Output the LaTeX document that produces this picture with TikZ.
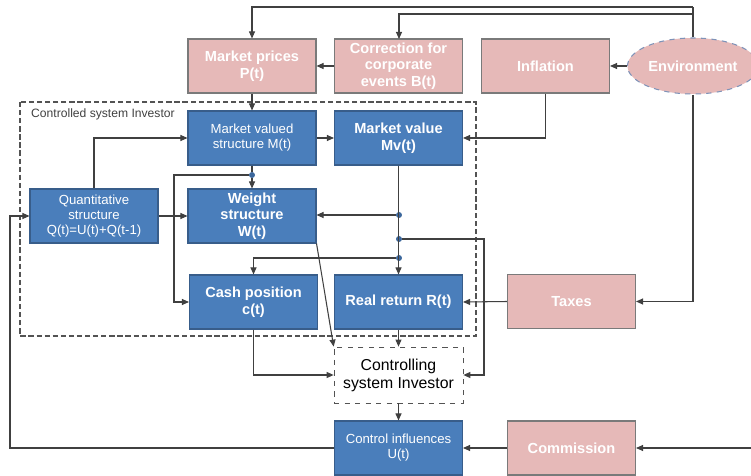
\documentclass[tikz,border=0pt]{standalone}
\usepackage{fontspec}
\setmainfont{Liberation Sans}
\usetikzlibrary{arrows.meta,shapes.geometric}
\definecolor{boxblue}{HTML}{4A7EBB}
\definecolor{boxblueline}{HTML}{385D8A}
\definecolor{boxpink}{HTML}{E6B9B8}
\definecolor{pinkline}{HTML}{7A7A7A}
\definecolor{linegray}{HTML}{404040}
\definecolor{envline}{HTML}{7F93B8}
\definecolor{dotblue}{HTML}{3C679C}

\begin{document}
\begin{tikzpicture}[x=0.02cm,y=-0.02cm,
  bluebox/.style={draw=boxblueline,fill=boxblue,text=white,minimum width=2.56cm,minimum height=1.08cm,inner sep=1pt,align=center,line width=0.6pt},
  pinkbox/.style={draw=pinkline,fill=boxpink,text=white,minimum width=2.56cm,minimum height=1.08cm,inner sep=1pt,align=center,line width=0.6pt},
  bigtxt/.style={font=\fontsize{8.3}{9.4}\selectfont\bfseries},
  smalltxt/.style={font=\fontsize{7.5}{8.6}\selectfont},
  ln/.style={draw=linegray,line width=0.6pt},
  arr/.style={draw=linegray,line width=0.6pt,-{Triangle[length=4pt,width=3.4pt]}},
  dot/.style={circle,fill=dotblue,inner sep=0pt,minimum size=3.4pt}]
\useasboundingbox (0,0) rectangle (751,476);

% controlled system
\draw[draw=linegray!90,line width=0.6pt,dash pattern=on 3pt off 1.6pt] (20,102) rectangle (476,336);
\node[anchor=west,text=linegray,font=\fontsize{6.9}{8}\selectfont] (sysl) at (25,114) {Controlled system Investor};

% top row
\node[pinkbox,bigtxt] (mp) at (252,66) {Market prices\\P(t)};
\node[pinkbox,bigtxt] (corr) at (398.5,66) {Correction for\\corporate\\events B(t)};
\node[pinkbox,bigtxt] (infl) at (545.5,66) {Inflation};
\node[pinkbox,bigtxt,shape=ellipse,draw=envline,dashed,minimum width=2.56cm,minimum height=1.12cm] (env) at (693,66) {Environment};

% inside
\node[bluebox,smalltxt] (mvs) at (252,138) {Market valued\\structure M(t)};
\node[bluebox,bigtxt] (mv) at (398.5,138) {Market value\\Mv(t)};
\node[bluebox,smalltxt] (qs) at (94,216) {Quantitative\\structure\\Q(t)=U(t)+Q(t-1)};
\node[bluebox,bigtxt] (ws) at (252,216) {Weight\\structure\\W(t)};
\node[bluebox,bigtxt] (cash) at (253.5,302) {Cash position\\c(t)};
\node[bluebox,bigtxt] (rr) at (398.5,302) {Real return R(t)};
\node[pinkbox,bigtxt] (taxes) at (571.5,301.5) {Taxes};

% lower part
\node[draw=linegray!90,dashed,fill=white,minimum width=2.58cm,minimum height=1.12cm,align=center,font=\fontsize{9}{10.2}\selectfont] (ctrl) at (398.5,375) {Controlling\\system Investor};
\node[bluebox,smalltxt] (ci) at (398.5,448) {Control influences\\U(t)};
\node[pinkbox,bigtxt] (comm) at (571.5,448) {Commission};

% environment lines on top
\coordinate (top1) at (693,7);
\coordinate (top2) at (693,14);
\draw[ln] (env.north) -- (top1);
\draw[arr] (top1) -| (mp.north);
\draw[arr] (top2) -| (399,39);
\draw[arr] (corr.west) -- (mp.east);
\draw[arr] (env.west) -- (infl.east);
\draw[arr] (mp.south) -- (mvs.north);
\draw[arr] (infl.south) |- (mv.east);
\draw[arr] (env.south) |- (taxes.east);
\draw[arr] (taxes.west) -- (rr.east);
\draw[arr] (mvs.east) -- (mv.west);
\draw[arr] (qs.north) |- (mvs.west);
\draw[arr] (qs.east) -- (ws.west);

% branch below market valued structure
\node[dot] (d1) at (252,175) {};
\draw[ln] (mvs.south) -- (d1);
\draw[arr] (d1) -- (ws.north);
\draw[arr] (d1) -- (174,175) |- (cash.west);

% branches below market value
\node[dot] (d2) at (399,215) {};
\node[dot] (d3) at (399,239) {};
\node[dot] (d4) at (399,258) {};
\draw[arr] (mv.south) -- (rr.north);
\draw[arr] (d2) -- (ws.east |- d2);
\draw[arr] (d3) -- (484,239) |- (ctrl.east);
\draw[arr] (d4) -| (cash.north);

% into controlling system
\draw[arr] (ws.south east) -- (ctrl.north west);
\draw[arr] (cash.south) |- (ctrl.west);
\draw[arr] (rr.south) -- (ctrl.north);
\draw[arr] (ctrl.south) -- (ci.north);

% feedback
\draw[arr] (ci.west) -- (10,448) |- (qs.west);
\draw[arr] (comm.west) -- (ci.east);
\coordinate (rightend) at (751,448);
\draw[arr] (rightend) -- (comm.east);
\end{tikzpicture}
\end{document}
